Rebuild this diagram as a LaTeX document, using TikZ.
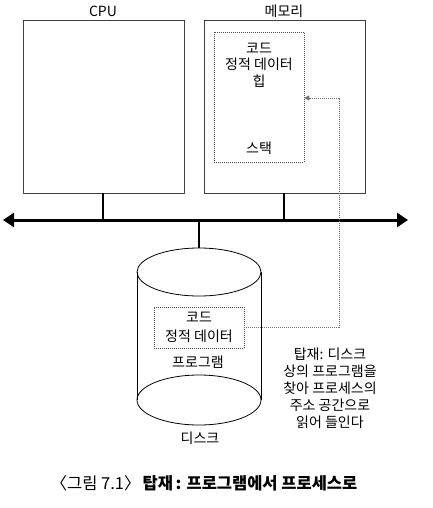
\documentclass[tikz,border=0pt]{standalone}
\usepackage{fontspec}
\setmainfont{Noto Sans CJK KR}
\usetikzlibrary{arrows.meta}
\begin{document}
\begin{tikzpicture}[x=1pt,y=-1pt,
  lbl/.style={font=\fontsize{14}{16.5}\selectfont, inner sep=0pt, align=center},
  box/.style={draw=black!75, line width=0.8pt, inner sep=0pt},
  dbox/.style={draw=black!70, dash pattern=on 1pt off 1pt, line width=0.6pt, inner sep=0pt},
  bus/.style={line width=3pt},
  stem/.style={line width=2pt},
  dotline/.style={draw=black!55, dash pattern=on 1pt off 1pt, line width=0.7pt}]
\useasboundingbox (0,0) rectangle (433,508);
% boxes
\node[box, minimum width=161pt, minimum height=173pt] (cpu) at (103.5,106.5) {};
\node[box, minimum width=161pt, minimum height=173pt] (mem) at (284.5,106.5) {};
\node[lbl] (cpulbl) at (103,11) {CPU};
\node[lbl] (memlbl) at (284,11) {메모리};
\node[dbox, minimum width=90pt, minimum height=130pt] (mspace) at (259,97) {};
\node[lbl] (mcode) at (259,65) {코드\\정적 데이터\\힙};
\node[lbl] (mstack) at (259,148) {스택};
% bus
\coordinate (busL) at (3,220);
\coordinate (busR) at (408,220);
\draw[bus, {Triangle[length=11pt,width=14pt]}-{Triangle[length=11pt,width=14pt]}] (busL) -- (busR);
\coordinate (cpuB) at (103,220);
\coordinate (memB) at (284,220);
\coordinate (dskB) at (199,220);
\draw[stem] (cpu.south -| cpuB) -- (cpuB);
\draw[stem] (mem.south -| memB) -- (memB);
% disk cylinder
\coordinate (dtop) at (199,248);
\draw[stem] (dskB) -- (dtop);
\draw[line width=0.8pt] (199,272) ellipse [x radius=62, y radius=24];
\draw[line width=0.8pt] (137,272) -- (137,400) (261,272) -- (261,400);
\draw[line width=0.8pt] (199,400) ellipse [x radius=62, y radius=25];
\node[dbox, minimum width=90pt, minimum height=41pt] (dspace) at (199,327.5) {};
\node[lbl, font=\fontsize{14}{19}\selectfont] (dcode) at (199,327.5) {코드\\정적 데이터};
\node[lbl] (prog) at (198,362) {프로그램};
\node[lbl] (disk) at (200,438) {디스크};
% loading arrow
\coordinate (turn1) at (339,327.5);
\coordinate (turn2) at (339,98);
\draw[dotline, -{Triangle[length=5pt,width=5pt]}] (dspace.east) -- (turn1) -- (turn2) -- (turn2 -| mspace.east);
\node[lbl, font=\fontsize{14}{17}\selectfont] (note) at (330,388.5) {탑재: 디스크\\상의 프로그램을\\찾아 프로세스의\\주소 공간으로\\읽어 들인다};
% caption
\node[inner sep=0pt, font=\fontsize{16.5}{18}\selectfont] (cap) at (204,483) {〈그림 7.1〉\hspace{2pt}\textbf{탑재\,: 프로그램에서 프로세스로}};
\end{tikzpicture}
\end{document}
